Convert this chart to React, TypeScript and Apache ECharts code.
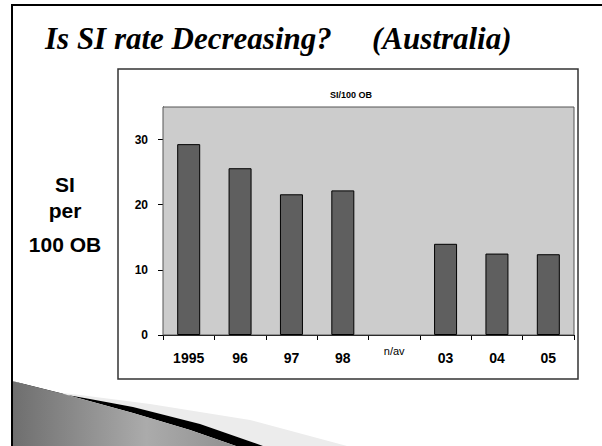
import React, { useEffect, useRef } from "react";
import * as echarts from "echarts";

const categories = ["1995", "96", "97", "98", "n/av", "03", "04", "05"];
const siPer100OB: (number | null)[] = [29.3, 25.6, 21.6, 22.2, null, 14.0, 12.5, 12.4];
const yTicks = [0, 10, 20, 30];

export default function App() {
  const ref = useRef<HTMLDivElement>(null);
  useEffect(() => {
    if (!ref.current) return;
    const chart = echarts.init(ref.current, null, { renderer: "svg" });
    const sans = "Liberation Sans, Arial, sans-serif";
    const titleFont = "italic bold 31px 'Liberation Serif', 'Times New Roman', serif";
    const nameFont = "bold 21px 'Liberation Sans', Arial, sans-serif";
    chart.setOption({
      animation: false,
      backgroundColor: "#ffffff",
      title: {
        text: "SI/100 OB",
        left: 346,
        top: 85,
        textAlign: "center",
        textStyle: { fontSize: 9, fontWeight: "bold", fontFamily: sans, color: "#000" },
      },
      grid: {
        left: 163,
        top: 107,
        right: 28,
        bottom: 111,
        show: true,
        backgroundColor: "#cccccc",
        borderColor: "#555555",
        borderWidth: 1,
        z: 1,
      },
      xAxis: {
        type: "category",
        data: categories,
        boundaryGap: true,
        axisLine: { lineStyle: { color: "#000", width: 1 } },
        axisTick: { show: true, length: 5, alignWithLabel: false, lineStyle: { color: "#000" } },
        axisLabel: {
          interval: 0,
          margin: 23,
          verticalAlign: "middle",
          formatter: (v: string) => (v === "n/av" ? "{n|" + v + "}" : "{b|" + v + "}"),
          rich: {
            b: { fontSize: 14, fontWeight: "bold", fontFamily: sans, color: "#000" },
            n: { fontSize: 11, fontWeight: "normal", fontFamily: sans, color: "#000", padding: [0, 0, 14, 0] },
          },
        },
      },
      yAxis: {
        type: "value",
        min: 0,
        max: 35,
        interval: 10,
        axisLine: { show: true, lineStyle: { color: "#000", width: 1 } },
        axisTick: { show: true, length: 5, customValues: yTicks, lineStyle: { color: "#000" } },
        axisLabel: {
          customValues: yTicks,
          margin: 15,
          fontSize: 12,
          fontWeight: "bold",
          fontFamily: sans,
          color: "#000",
        },
        splitLine: { show: true, lineStyle: { color: "#555555", width: 1 } },
      },
      series: [
        {
          type: "bar",
          data: siPer100OB,
          barWidth: 23,
          itemStyle: { color: "#5f5f5f", borderColor: "#000", borderWidth: 1 },
          z: 3,
        },
      ],
      graphic: [
        { type: "line", shape: { x1: 12, y1: 5, x2: 602, y2: 5 }, style: { stroke: "#000", lineWidth: 2 }, z: 10 },
        {
          type: "rect",
          shape: { x: 118, y: 69, width: 460, height: 310 },
          style: { fill: "none", stroke: "#333", lineWidth: 1.5 },
          z: -1,
        },
        {
          type: "polygon",
          shape: {
            points: [
              [80, 395], [150, 404], [250, 420], [347, 446],
              [263, 446], [200, 424], [133, 407], [90, 399], [45, 391],
            ],
          },
          style: { fill: "#ececec" },
          z: 5,
        },
        {
          type: "polygon",
          shape: {
            points: [
              [45, 391], [90, 399], [133, 407], [200, 424], [263, 446],
              [236, 446], [190, 430], [133, 413], [60, 393], [12, 381],
            ],
          },
          style: { fill: "#000" },
          z: 6,
        },
        {
          type: "polygon",
          shape: {
            points: [[12, 381], [60, 393], [133, 413], [190, 430], [236, 446], [12, 446]],
          },
          style: {
            fill: new echarts.graphic.LinearGradient(0, 0, 1, 0, [
              { offset: 0, color: "#6e6e6e" },
              { offset: 0.6, color: "#ababab" },
              { offset: 1, color: "#909090" },
            ]),
          },
          z: 7,
        },
        { type: "line", shape: { x1: 12, y1: 4, x2: 12, y2: 446 }, style: { stroke: "#000", lineWidth: 2 }, z: 10 },
        {
          type: "text",
          x: 45,
          y: 38,
          style: { text: "Is SI rate Decreasing?", font: titleFont, fill: "#000", verticalAlign: "middle" },
          z: 10,
        },
        {
          type: "text",
          x: 372,
          y: 38,
          style: { text: "(Australia)", font: titleFont, fill: "#000", verticalAlign: "middle" },
          z: 10,
        },
        {
          type: "text",
          x: 65,
          y: 184,
          style: { text: "SI", font: nameFont, fill: "#000", align: "center", verticalAlign: "middle" },
          z: 10,
        },
        {
          type: "text",
          x: 65,
          y: 210,
          style: { text: "per", font: nameFont, fill: "#000", align: "center", verticalAlign: "middle" },
          z: 10,
        },
        {
          type: "text",
          x: 65,
          y: 244,
          style: { text: "100 OB", font: nameFont, fill: "#000", align: "center", verticalAlign: "middle" },
          z: 10,
        },
      ],
    });
    return () => chart.dispose();
  }, []);
  return <div ref={ref} style={{ position: "fixed", left: 0, top: 0, width: 602, height: 446 }} />;
}
